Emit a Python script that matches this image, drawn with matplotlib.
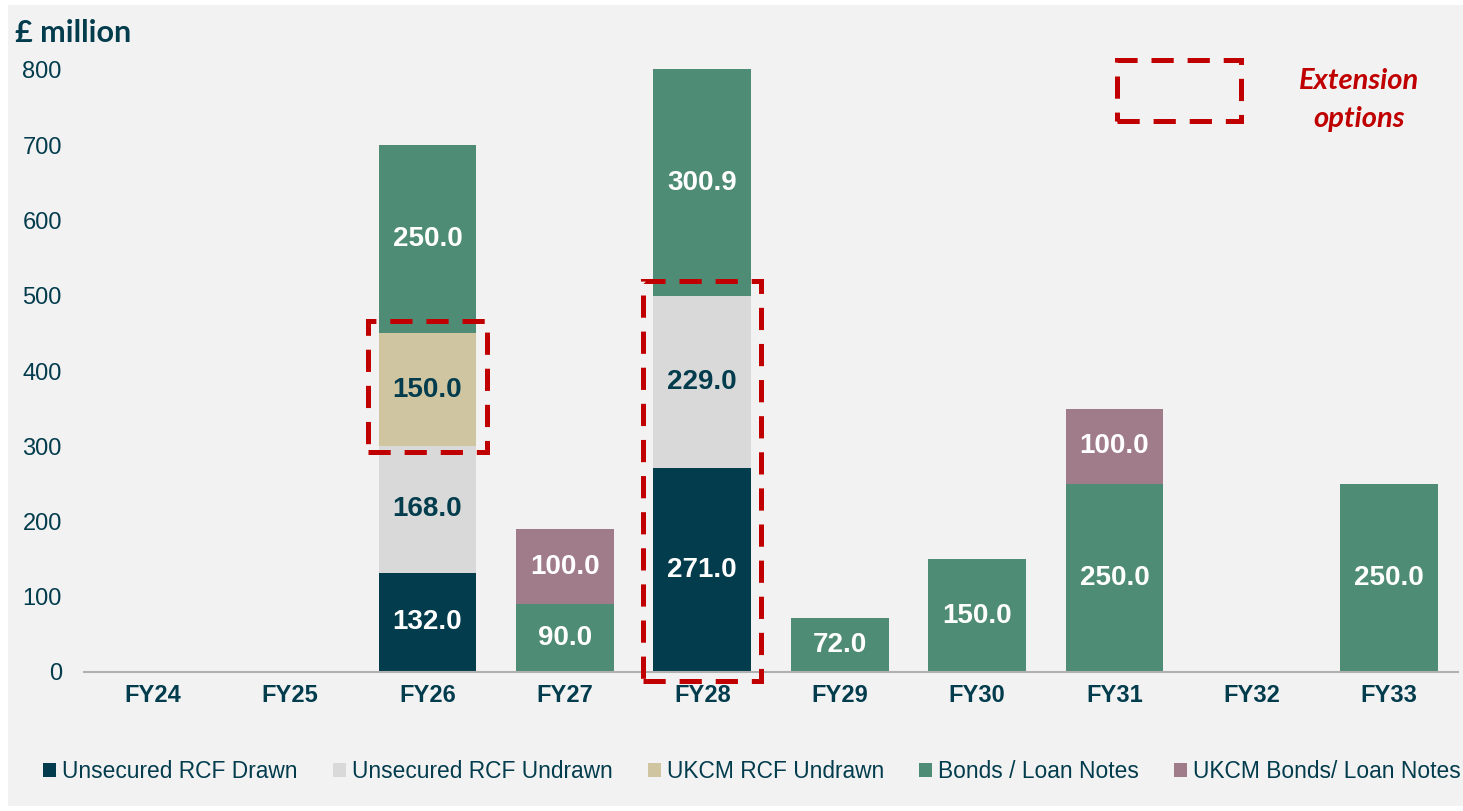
import matplotlib
matplotlib.use("Agg")
import matplotlib.pyplot as plt
from matplotlib.patches import Rectangle, Patch
import numpy as np

plt.rcParams['font.family'] = ['Liberation Sans', 'DejaVu Sans']
plt.rcParams['lines.scale_dashes'] = False

categories = ['FY24', 'FY25', 'FY26', 'FY27', 'FY28', 'FY29', 'FY30', 'FY31', 'FY32', 'FY33']
rcf_drawn = [0, 0, 132.0, 0, 271.0, 0, 0, 0, 0, 0]
rcf_undrawn = [0, 0, 168.0, 0, 229.0, 0, 0, 0, 0, 0]
ukcm_rcf_undrawn = [0, 0, 150.0, 0, 0, 0, 0, 0, 0, 0]
bonds = [0, 0, 250.0, 90.0, 300.9, 72.0, 150.0, 250.0, 0, 250.0]
ukcm_bonds = [0, 0, 0, 100.0, 0, 0, 0, 100.0, 0, 0]

series = [
    ('Unsecured RCF Drawn', rcf_drawn, '#023c4d', 'white'),
    ('Unsecured RCF Undrawn', rcf_undrawn, '#d9d9d9', '#023c4d'),
    ('UKCM RCF Undrawn', ukcm_rcf_undrawn, '#cfc5a1', '#023c4d'),
    ('Bonds / Loan Notes', bonds, '#4f8c76', 'white'),
    ('UKCM Bonds/ Loan Notes', ukcm_bonds, '#a07b89', 'white'),
]

TEXT = '#023c4d'
RED = '#c00000'
W, H = 1463, 811
fig = plt.figure(figsize=(W / 100, H / 100), dpi=100)
fig.patch.set_facecolor('white')
fig.patches.append(Rectangle((8 / W, 5 / H), 1 - 8 / W, 1 - 10 / H, transform=fig.transFigure,
                             facecolor='#f2f2f2', edgecolor='none', zorder=-10))

# axes: x from 84 to 1458 px, y 0 at 672 px, 0.7525 px per unit
ymax = 850
left, right = 84, 1458
bottom_px = 672
height_px = ymax * 0.7525
ax = fig.add_axes([left / W, (H - bottom_px) / H, (right - left) / W, height_px / H])
ax.set_facecolor('none')

x = np.arange(len(categories))
base = np.zeros(len(categories))
width = 0.713
for name, vals, color, tcol in series:
    vals = np.array(vals, dtype=float)
    ax.bar(x, vals, width, bottom=base, color=color, label=name, zorder=2)
    for xi, v, b in zip(x, vals, base):
        if v > 0:
            ax.text(xi, b + v / 2, f'{v:.1f}', ha='center', va='center', color=tcol,
                    fontsize=20, fontweight='bold', zorder=4)
    base += vals

ax.set_xlim(-0.5, 9.5)
ax.set_ylim(0, ymax)
ax.set_yticks([0, 100, 200, 300, 400, 500, 600, 700, 800])
ax.set_xticks(x)
ax.set_xticklabels(categories, fontweight='bold', fontsize=17, color=TEXT)
ax.tick_params(axis='y', length=0, pad=16, labelsize=17, labelcolor=TEXT)
ax.tick_params(axis='x', length=0, pad=9)
for s in ['left', 'right', 'top']:
    ax.spines[s].set_visible(False)
ax.spines['bottom'].set_color('#b0b0b0')
ax.spines['bottom'].set_linewidth(1.5)

# extension option boxes
dash = (0, (16, 10))
def ext_box(xc, y0, y1, half=0.43):
    ax.add_patch(Rectangle((xc - half, y0), 2 * half, y1 - y0, fill=False, edgecolor=RED,
                           linewidth=3.6, linestyle=dash, zorder=5, clip_on=False))

ext_box(2, 293, 466)
ext_box(4, -12, 520)
ax.add_patch(Rectangle((7.02, 732), 0.9, 81, fill=False, edgecolor=RED, linewidth=3.6,
                       linestyle=dash, zorder=5, clip_on=False))
ax.text(8.78, 760, 'Extension\noptions', ha='center', va='center', color=RED, fontsize=21,
        fontweight='bold', fontstyle='italic', family=['Lato', 'DejaVu Sans'],
        linespacing=1.6, zorder=5)

fig.text(15 / W, 1 - 33 / H, '£ million', ha='left', va='center', fontsize=22,
         fontweight='bold', color=TEXT, family=['Lato', 'DejaVu Sans'])

handles = [Patch(facecolor=c, edgecolor='none') for _, _, c, _ in series]
labels = [n for n, _, _, _ in series]
leg = fig.legend(handles, labels, loc='center', bbox_to_anchor=(752 / W, 1 - 772 / H), ncol=5,
                 frameon=False, fontsize=16.4, handlelength=0.57, handleheight=0.57,
                 handletextpad=0.26, columnspacing=1.55, labelcolor=TEXT, borderpad=0,
                 borderaxespad=0)

fig.savefig('out.png', dpi=100, facecolor=fig.get_facecolor())
